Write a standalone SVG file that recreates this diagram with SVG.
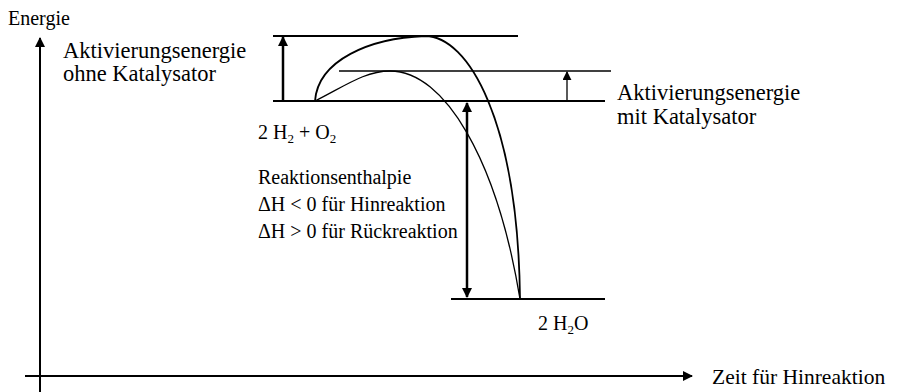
<svg xmlns="http://www.w3.org/2000/svg" width="900" height="392" viewBox="0 0 900 392">
<defs>
<marker id="ah" viewBox="0 0 10 10" refX="9" refY="5" markerWidth="10" markerHeight="11" markerUnits="userSpaceOnUse" orient="auto-start-reverse"><path d="M0,0 L10,5 L0,10 Z" fill="#000"/></marker>
<marker id="ahs" viewBox="0 0 10 10" refX="9" refY="5" markerWidth="9" markerHeight="9" markerUnits="userSpaceOnUse" orient="auto-start-reverse"><path d="M0,0 L10,5 L0,10 Z" fill="#000"/></marker>
</defs>
<style>
text{font-family:"Liberation Serif","Times New Roman",serif;font-size:20px;fill:#000}
.big{font-size:22.5px}
.axl{font-size:21.5px}
.lvl{stroke:#000;stroke-width:2;fill:none}
.thin{stroke:#000;stroke-width:1.3;fill:none}
.curve{stroke:#000;stroke-width:1.8;fill:none}
.arr{stroke:#000;stroke-width:2.5;fill:none}
.sub{font-size:13px}
</style>
<rect width="900" height="392" fill="#fff"/>
<g id="axes">
<line x1="40" y1="392" x2="40" y2="38" class="lvl" marker-end="url(#ah)"/>
<line x1="25" y1="376" x2="692" y2="376" class="lvl" marker-end="url(#ah)"/>
<text x="8" y="25">Energie</text>
<text x="712" y="384" class="axl">Zeit für Hinreaktion</text>
</g>
<g id="levels">
<line x1="273" y1="36" x2="518" y2="36" class="lvl"/>
<line x1="339" y1="71" x2="611" y2="71" class="thin"/>
<line x1="273" y1="101" x2="605" y2="101" class="lvl"/>
<line x1="451" y1="299" x2="605" y2="299" class="lvl"/>
</g>
<g id="curves">
<path d="M315,101 C318,60 370,38 425,36 C468,36 518,120 520,299" class="curve"/>
<path d="M315,101 C345,86 365,71 390,71 C445,71 497,160 520,299" class="thin"/>
</g>
<g id="connectors">
<line x1="283" y1="101" x2="283" y2="37" class="arr" marker-end="url(#ah)"/>
<line x1="567" y1="101" x2="567" y2="72" class="thin" marker-end="url(#ahs)"/>
<line x1="467" y1="103" x2="467" y2="297" class="arr" marker-start="url(#ah)" marker-end="url(#ah)"/>
</g>
<g id="label-ea-ohne">
<text x="63" y="58" class="big">Aktivierungsenergie</text>
<text x="63" y="81" class="big">ohne Katalysator</text>
</g>
<g id="label-reactants">
<text x="258" y="139">2 H<tspan class="sub" dy="4">2</tspan><tspan dy="-4"> + O</tspan><tspan class="sub" dy="4">2</tspan></text>
</g>
<g id="label-dh">
<text x="258" y="184">Reaktionsenthalpie</text>
<text x="258" y="211">ΔH &lt; 0 für Hinreaktion</text>
<text x="258" y="238">ΔH &gt; 0 für Rückreaktion</text>
</g>
<g id="label-ea-mit">
<text x="617" y="100" class="big">Aktivierungsenergie</text>
<text x="617" y="124" class="big">mit Katalysator</text>
</g>
<g id="label-product">
<text x="538" y="330">2 H<tspan class="sub" dy="4">2</tspan><tspan dy="-4">O</tspan></text>
</g>
</svg>
